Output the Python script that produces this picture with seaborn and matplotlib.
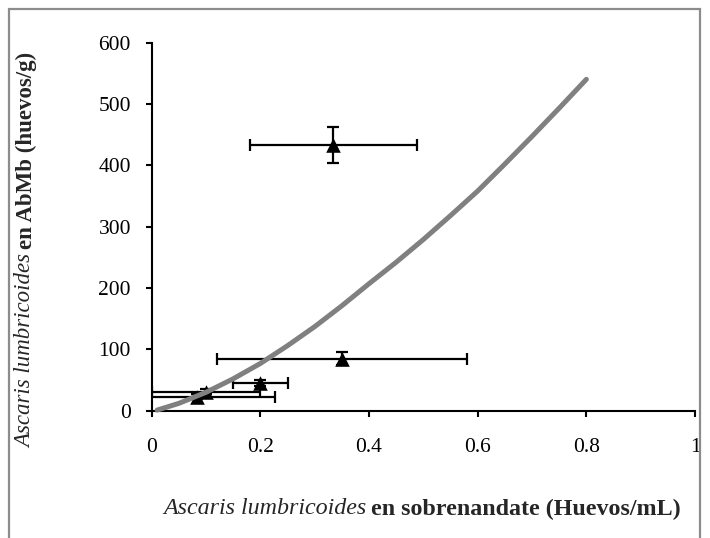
import numpy as np
import pandas as pd
import matplotlib
matplotlib.use("Agg")
import matplotlib.pyplot as plt
import seaborn as sns
from matplotlib.patches import Rectangle
from matplotlib.ticker import FuncFormatter

# Datos
x_obs = [0.334, 0.351, 0.200, 0.100, 0.084]
y_obs = [433, 85, 45, 31, 23]
x_err = [0.154, 0.230, 0.050, 0.100, 0.143]
y_err = [30, 10, 5, 4, 4]

# Curva de ajuste (valores leidos)
x_curva = [0.01, 0.05, 0.1, 0.15, 0.2, 0.25, 0.3, 0.35, 0.4, 0.45, 0.5,
           0.55, 0.6, 0.65, 0.7, 0.75, 0.8]
y_curva = [1, 12, 30, 52, 77, 106, 137, 171, 207, 242, 279,
           318, 358, 402, 447, 493, 540]

x_ticks = [0, 0.2, 0.4, 0.6, 0.8, 1]
y_ticks = [0, 100, 200, 300, 400, 500, 600]

W, H = 710, 538
sns.set_style("ticks")
plt.rcParams['font.family'] = ['Liberation Serif', 'DejaVu Serif']

fig = plt.figure(figsize=(W / 100, H / 100), dpi=100)
ax = fig.add_axes([0.2137, 0.2366, 0.9789 - 0.2137, 0.921 - 0.2366])

df_obs = pd.DataFrame({"x": x_obs, "y": y_obs})
df_curva = pd.DataFrame({"x": x_curva, "y": y_curva})

ax.errorbar(x_obs, y_obs, xerr=x_err, yerr=y_err, fmt='none', ecolor='black',
            elinewidth=1.6, capsize=4, capthick=1.6, zorder=2)
sns.scatterplot(data=df_obs, x="x", y="y", marker='^', s=110, color='black',
                edgecolor='black', linewidth=0, ax=ax, zorder=3)
sns.lineplot(data=df_curva, x="x", y="y", color='#808080', linewidth=3.6,
             ax=ax, zorder=4)
curva = ax.get_lines()[-1]
curva.set_solid_capstyle('round')
curva.set_solid_joinstyle('round')
curva.set_clip_on(False)

ax.set_xlim(0, 1)
ax.set_ylim(0, 600)
ax.set_xticks(x_ticks)
ax.set_yticks(y_ticks)
ax.xaxis.set_major_formatter(FuncFormatter(lambda v, p: f"{v:g}"))
ax.set_xlabel("")
ax.set_ylabel("")
for s in ["top", "right"]:
    ax.spines[s].set_visible(False)
for s in ["left", "bottom"]:
    ax.spines[s].set_linewidth(1.5)
    ax.spines[s].set_color('black')
ax.tick_params(axis='both', direction='out', length=4, width=1.5, colors='black',
               labelsize=15.5)
ax.tick_params(axis='x', pad=16)
ax.tick_params(axis='y', pad=11)

# Marco gris exterior
fig.patches.append(Rectangle((8.5 / W, -0.05), (700 - 8.5) / W, 1.05 - 9.5 / H,
                             transform=fig.transFigure, fill=False,
                             edgecolor='#8c8c8c', linewidth=1.6))

# Etiquetas con partes en cursiva y negrita
fs = 17.3
fs_y = 16.5
renderer = fig.canvas.get_renderer()
gap = 5

t1 = fig.text(0, 0, "Ascaris lumbricoides", style='italic', fontsize=fs,
              ha='left', va='center')
t2 = fig.text(0, 0, "en sobrenandate (Huevos/mL)", weight='bold', fontsize=fs,
              ha='left', va='center')
w1 = t1.get_window_extent(renderer).width
w2 = t2.get_window_extent(renderer).width
cx, cy = 422, H - 509
x0 = cx - (w1 + gap + w2) / 2
t1.set_position((x0 / W, cy / H))
t2.set_position(((x0 + w1 + gap) / W, cy / H))

u1 = fig.text(0, 0, "Ascaris lumbricoides", style='italic', fontsize=fs_y,
              rotation=90, ha='center', va='bottom')
u2 = fig.text(0, 0, "en AbMb (huevos/g)", weight='bold', fontsize=fs_y,
              rotation=90, ha='center', va='bottom')
h1 = u1.get_window_extent(renderer).height
h2 = u2.get_window_extent(renderer).height
ux, uy = 26, H - 250
y0 = uy - (h1 + gap + h2) / 2
u1.set_position((ux / W, y0 / H))
u2.set_position((ux / W, (y0 + h1 + gap) / H))

fig.savefig("out.png", dpi=100)
